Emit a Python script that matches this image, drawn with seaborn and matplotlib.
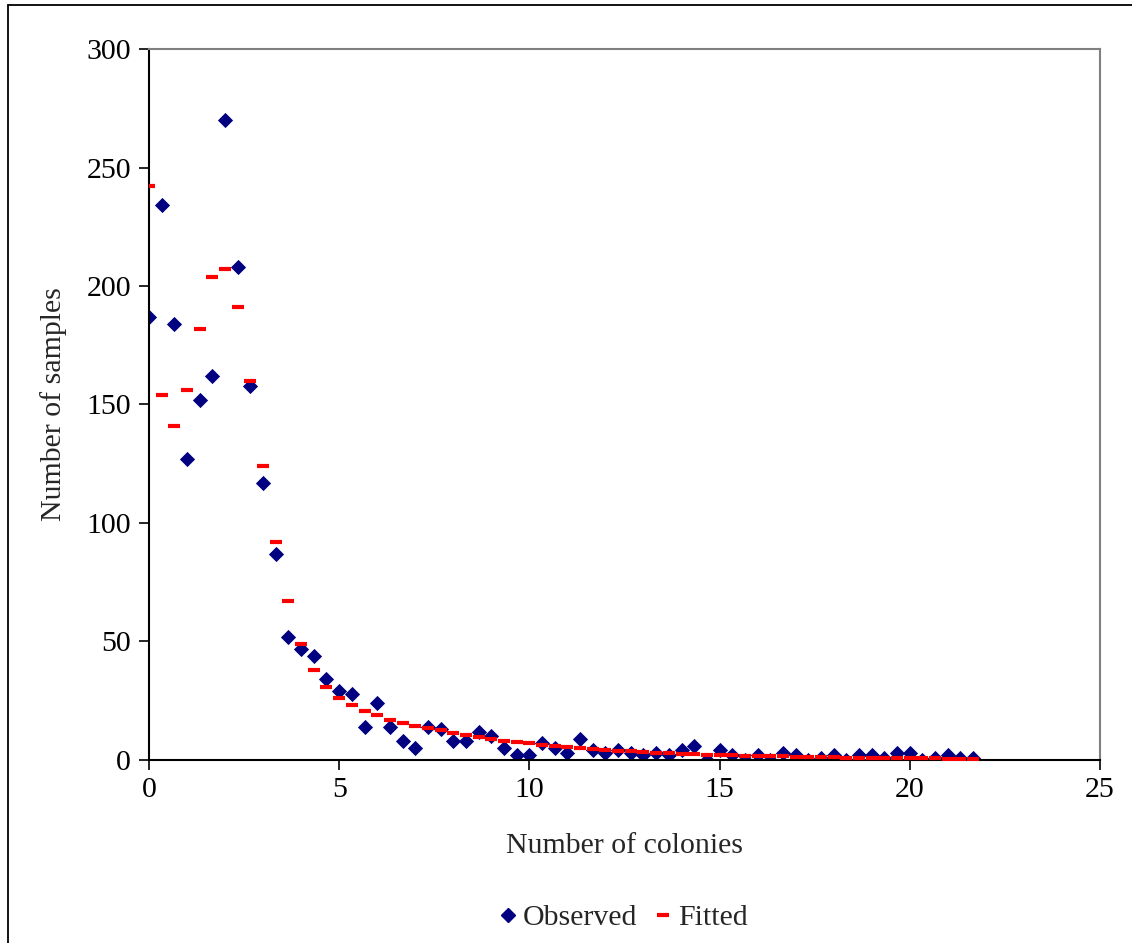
import numpy as np
import pandas as pd
import matplotlib
matplotlib.use("Agg")
import matplotlib.pyplot as plt
import seaborn as sns
from matplotlib.lines import Line2D

sns.set_theme(style="white")
plt.rcParams['font.family'] = ['Liberation Serif', 'DejaVu Serif']

colonies = [i / 3 for i in range(66)]
observed = [187, 234, 184, 127, 152, 162, 270, 208, 158, 117,
            87, 52, 47, 44, 34, 29, 28, 14, 24, 14,
            8, 5, 14, 13, 8, 8, 12, 10, 5, 2,
            2, 7, 5, 3, 9, 4, 3, 4, 3, 2,
            3, 2, 4, 6, 0, 4, 2, 0, 2, 0,
            3, 2, 0, 1, 2, 0, 2, 2, 1, 3,
            3, 0, 1, 2, 1, 1]
fitted = [242, 154, 141, 156, 182, 204, 207, 191, 160, 124,
          92, 67, 49, 38, 31, 26, 23, 20.5, 19, 17,
          15.5, 14.5, 13.5, 12.5, 11.5, 10.5, 9.7, 9.0, 8.2, 7.6,
          7.0, 6.5, 6.0, 5.5, 5.0, 4.6, 4.2, 3.9, 3.6, 3.3,
          3.0, 2.8, 2.6, 2.4, 2.2, 2.0, 1.9, 1.8, 1.7, 1.6,
          1.5, 1.4, 1.3, 1.2, 1.1, 1.0, 0.95, 0.9, 0.85, 0.8,
          0.75, 0.7, 0.65, 0.6, 0.55, 0.5]

df = pd.DataFrame({"x": colonies, "Observed": observed, "Fitted": fitted})

FS = 21.5
fig = plt.figure(figsize=(11.32, 9.43), dpi=100)
ax = fig.add_axes([0.1316, 0.1941, 0.8401, 0.7539])

sns.scatterplot(data=df, x="x", y="Fitted", ax=ax, marker="_", color="#ff0000",
                s=80, linewidth=3.0, zorder=3, legend=False)
sns.scatterplot(data=df, x="x", y="Observed", ax=ax, marker="D", color="#000080",
                s=60, linewidth=0, zorder=2, legend=False)

ax.set_xlim(0, 25)
ax.set_ylim(0, 300)
ax.set_xticks([0, 5, 10, 15, 20, 25])
ax.set_yticks([0, 50, 100, 150, 200, 250, 300])
ax.tick_params(axis="both", direction="out", length=7, width=1.2, labelsize=FS,
               bottom=True, left=True, colors="black")
ax.tick_params(axis="x", pad=5)
ax.tick_params(axis="y", pad=6)
for s in ["left", "bottom"]:
    ax.spines[s].set_color("black")
    ax.spines[s].set_linewidth(1.5)
for s in ["top", "right"]:
    ax.spines[s].set_color("#808080")
    ax.spines[s].set_linewidth(1.5)
ax.set_xlabel("Number of colonies", fontsize=FS, labelpad=22)
ax.set_ylabel("Number of samples", fontsize=FS, labelpad=14)

handles = [Line2D([], [], marker="D", color="#000080", linestyle="none", markersize=7),
           Line2D([], [], marker="_", color="#ff0000", linestyle="none", markersize=9,
                  markeredgewidth=3)]
fig.legend(handles, ["Observed", "Fitted"], loc="center", bbox_to_anchor=(0.55, 0.027),
           ncol=2, frameon=False, fontsize=FS, handletextpad=0.15, columnspacing=0.5,
           handlelength=0.7)

# outer frame: only left and top edges visible
fig.add_artist(Line2D([8 / 1132, 8 / 1132], [0, 1 - 4.5 / 943], transform=fig.transFigure,
                      color="black", linewidth=1.3))
fig.add_artist(Line2D([8 / 1132, 1], [1 - 4.5 / 943, 1 - 4.5 / 943], transform=fig.transFigure,
                      color="black", linewidth=1.3))

fig.savefig("out.png", dpi=100)
